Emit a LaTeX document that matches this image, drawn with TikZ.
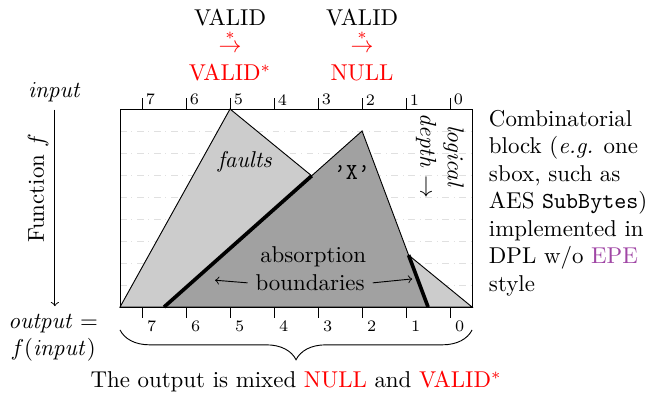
\documentclass[tikz,border=0pt]{standalone}
\usetikzlibrary{decorations.pathreplacing}
\definecolor{epe}{RGB}{160,70,165}
\begin{document}
\begin{tikzpicture}[x = 0.675cm, y = 0.675cm]
            \useasboundingbox (-2.727,-2.09) rectangle (12.02,6.977);
            \foreach \y in {0.5,1,...,4}
                \draw [color = black!12, dash dot] (0,\y) -- (8,\y);
            \draw [fill = black!20] (0,0) -- (2.5,4.5) -- (8,0) -- cycle;
            \draw [fill = black!37] (1,0) -- (5.5,4) -- (7,0) -- cycle;
            \coordinate (bl) at (intersection of 1,0--5.5,4 and 2.5,4.5--8,0);
            \coordinate (br) at (intersection of 5.5,4--7,0 and 2.5,4.5--8,0);
            \draw [line width = 1.6pt] (1,0) -- (bl);
            \draw [line width = 1.6pt] (br) -- (7,0);
            \draw (0,0) rectangle (8,4.5);
            \foreach \i in {0,...,7} {
                \draw (7.5-\i,4.5) -- (7.5-\i,4.75);
                \draw (7.5-\i,0) -- (7.5-\i,-0.25);
                \draw (7.5-\i,4.5) node[anchor = south west, inner sep = 1.5pt, font = \scriptsize] (top\i) {\i};
                \draw (7.5-\i,-0.2) node[anchor = north west, inner sep = 2pt, font = \scriptsize] (bot\i) {\i};
            }
            \draw (2.84,3.3) node (faults) {\textit{faults}};
            \draw (5.27,3.05) node (x) {\texttt{\textquoteright X\textquoteright}};
            \draw (7.27,3.43) node[rotate = -90, align = center] (depth) {\textit{logical}\\\textit{depth} $\rightarrow$};
            \draw (4.39,1.14) node (absorb) {absorption};
            \draw (4.32,0.55) node (bound) {boundaries};
                \coordinate (lt) at (2.16,0.61);
                \coordinate (rt) at (6.64,0.64);
                \draw [->] (bound.west) -- (lt);
                \draw [->] (bound.east) -- (rt);
            \foreach \c/\res/\n in {2.5/VALID$^*$/A, 5.5/NULL/B} {
                \draw (\c,6.57) node[inner sep = 1pt] (val\n) {VALID};
                \draw (\c,6.04) node[color = red, inner sep = 0pt] (step\n) {$\stackrel{*}{\rightarrow}$};
                \draw (\c,5.32) node[color = red, inner sep = 1pt] (res\n) {\res};
            }
            \draw (-1.48,4.89) node (input) {$\mathit{input}$};
            \draw (-1.52,-0.7) node[align = center] (output) {$\mathit{output} =$\\$f(\mathit{input})$};
                \draw [->] (input.south) -- (input.south |- output.north);
            \draw (-1.86,2.7) node[rotate = 90] (fun) {Function $f$};
            \draw (8.2,4.66) node[anchor = north west, align = left] (block) {Combinatorial\\block (\textit{e.g.} one\\sbox, such as\\AES \texttt{SubBytes})\\implemented in\\DPL w/o \textcolor{epe}{EPE}\\style};
            \draw [decorate, decoration = {brace, mirror, amplitude = 13pt}] (0,-0.52) -- (8,-0.52);
            \draw (4,-1.7) node (mixed) {The output is mixed \textcolor{red}{NULL} and \textcolor{red}{VALID$^*$}};
        \end{tikzpicture}
\end{document}
